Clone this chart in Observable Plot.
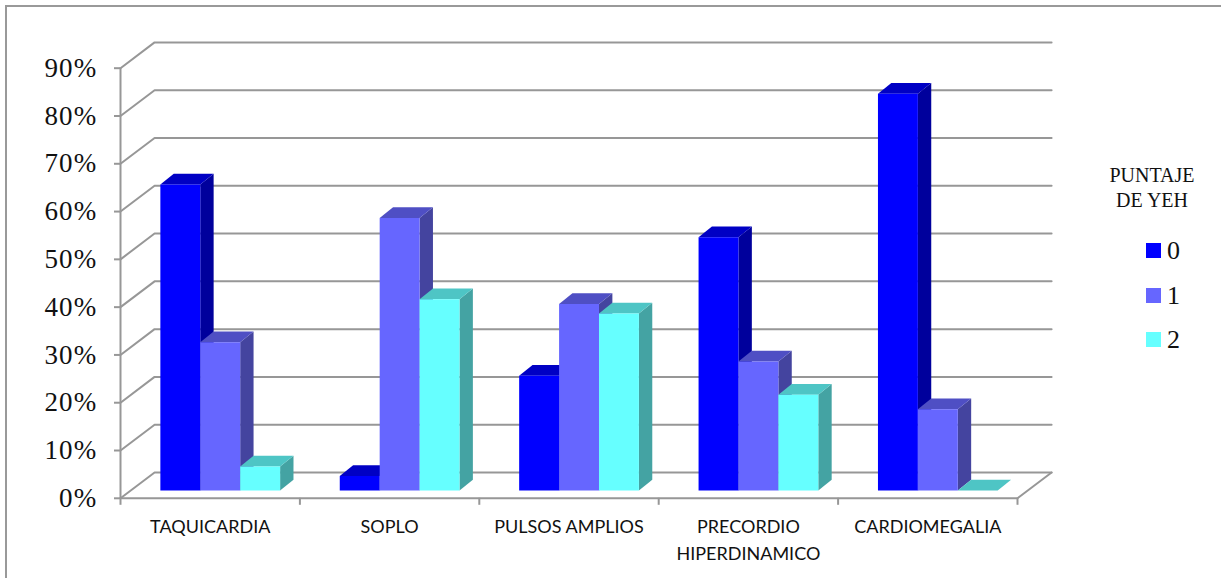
<!DOCTYPE html>
<html lang="es">
<head>
<meta charset="utf-8">
<script src="https://cdn.jsdelivr.net/npm/d3@7"></script>
<script src="https://cdn.jsdelivr.net/npm/@observablehq/plot@0.6"></script>
<style>
  html, body { margin: 0; padding: 0; background: #fff; overflow: hidden; }
  #page { position: relative; width: 1221px; height: 578px; }
  #page svg { display: block; position: absolute; left: 0; top: 0; background: transparent; }
  #page svg g[aria-label="y-axis tick label"] { letter-spacing: 1.2px; }
  #frame { position: absolute; left: 5px; top: 5px; right: 0; bottom: 0; border-left: 2px solid #999; border-top: 2px solid #999; }
  #legend { position: absolute; left: 1100px; top: 0; width: 104px; font-family: "Liberation Serif", serif; color: #111; }
  #legend .title { position: absolute; left: 0; width: 104px; text-align: center; font-size: 20px; line-height: 25px; top: 163px; }
  #legend .swatch { position: absolute; left: 46px; width: 15px; height: 15px; }
  #legend .label { position: absolute; left: 67px; font-size: 26px; line-height: 26px; }
</style>
</head>
<body>
<div id="page"><div id="frame"></div></div>
<script>
// Porcentaje de pacientes con cada signo clínico, por puntaje de Yeh
const categories = ["TAQUICARDIA", "SOPLO", "PULSOS AMPLIOS", "PRECORDIO\nHIPERDINAMICO", "CARDIOMEGALIA"];
const puntaje0 = [64, 3, 24, 53, 83];
const puntaje1 = [31, 57, 39, 27, 17];
const puntaje2 = [5, 40, 37, 20, 0];
const seriesNames = ["0", "1", "2"];
const yTicks = [0, 10, 20, 30, 40, 50, 60, 70, 80, 90];
const faceColors = [
  {front: "#0000ff", top: "#0000c4", side: "#00009c"},
  {front: "#6666ff", top: "#4f4fc4", side: "#44449f"},
  {front: "#66ffff", top: "#4ec5c5", side: "#44a3a3"}
];

// Proyección oblicua, expresada en unidades de los ejes (categoría, %)
const wallDx = 0.19, wallDy = 5.4;
const barStart = 0.2222, barWidth = 0.2225;
const barDx = 0.0745, barDy = 2.25, baseDy = 1.65;
const grey = "#979797";

const values = [puntaje0, puntaje1, puntaje2];
const faces = [];
categories.forEach((_, c) => {
  seriesNames.forEach((_, s) => {
    const v = values[s][c];
    const x0 = c + barStart + s * barWidth, x1 = x0 + barWidth;
    const y0 = baseDy, y1 = baseDy + v;
    const color = faceColors[s];
    const add = (name, fill, pts) => pts.forEach(([x, y]) => faces.push({face: `${c}-${s}-${name}`, fill, x, y}));
    add("side", color.side, [[x1, y0], [x1 + barDx, y0 + barDy], [x1 + barDx, y1 + barDy], [x1, y1]]);
    add("top", color.top, [[x0, y1], [x0 + barDx, y1 + barDy], [x1 + barDx, y1 + barDy], [x1, y1]]);
    if (v > 0) add("front", color.front, [[x0, y0], [x1, y0], [x1, y1], [x0, y1]]);
  });
});

// Líneas de rejilla: suben en diagonal desde el eje y siguen por la pared del fondo
const grid = yTicks.flatMap((t) => [
  {t, x: 0, y: t},
  {t, x: wallDx, y: t + wallDy},
  {t, x: categories.length + wallDx, y: t + wallDy}
]);
const floorEdge = [
  {x: 0, y: 0},
  {x: categories.length, y: 0},
  {x: categories.length + wallDx, y: wallDy}
];

const labels = categories.map((name, i) => ({name, x: i + 0.5}));

const chart = Plot.plot({
  width: 1221,
  height: 578,
  marginLeft: 120,
  marginRight: 204,
  marginTop: 67.7,
  marginBottom: 80.2,
  style: {background: "transparent", overflow: "visible"},
  x: {domain: [0, categories.length], label: null},
  y: {domain: [0, 90], label: null},
  color: {type: "identity"},
  marks: [
    Plot.line(grid, {x: "x", y: "y", z: "t", stroke: grey, strokeWidth: 2}),
    Plot.line(floorEdge, {x: "x", y: "y", stroke: grey, strokeWidth: 2}),
    Plot.ruleX([0], {y1: 0, y2: 90, stroke: grey, strokeWidth: 2}),
    Plot.axisY({
      ticks: yTicks, tickSize: 6, tickPadding: 17, stroke: grey, strokeWidth: 2,
      tickFormat: (d) => `${d}%`, fontSize: 27, fontFamily: "Liberation Serif", fill: "#111", label: null
    }),
    Plot.axisX({
      ticks: d3.range(categories.length + 1), tickSize: 7, stroke: grey, strokeWidth: 2,
      tickFormat: () => null, label: null
    }),
    Plot.line(faces, {x: "x", y: "y", z: "face", fill: "fill", stroke: "none"}),
    Plot.text(labels, {
      x: "x", y: () => 0, text: "name", dy: 16, lineAnchor: "top", lineHeight: 1.5,
      fontSize: 18, fontFamily: "Lato", fill: "#111"
    })
  ]
});
const page = document.getElementById("page");
page.appendChild(chart);

// Leyenda a la derecha del gráfico
const legend = document.createElement("div");
legend.id = "legend";
legend.innerHTML = `<div class="title">PUNTAJE<br>DE YEH</div>`;
seriesNames.forEach((name, i) => {
  const top = 243 + i * 44.5;
  legend.insertAdjacentHTML("beforeend",
    `<div class="swatch" style="top:${top}px;background:${faceColors[i].front}"></div>` +
    `<div class="label" style="top:${top - 5}px">${name}</div>`);
});
page.appendChild(legend);
</script>
</body>
</html>
